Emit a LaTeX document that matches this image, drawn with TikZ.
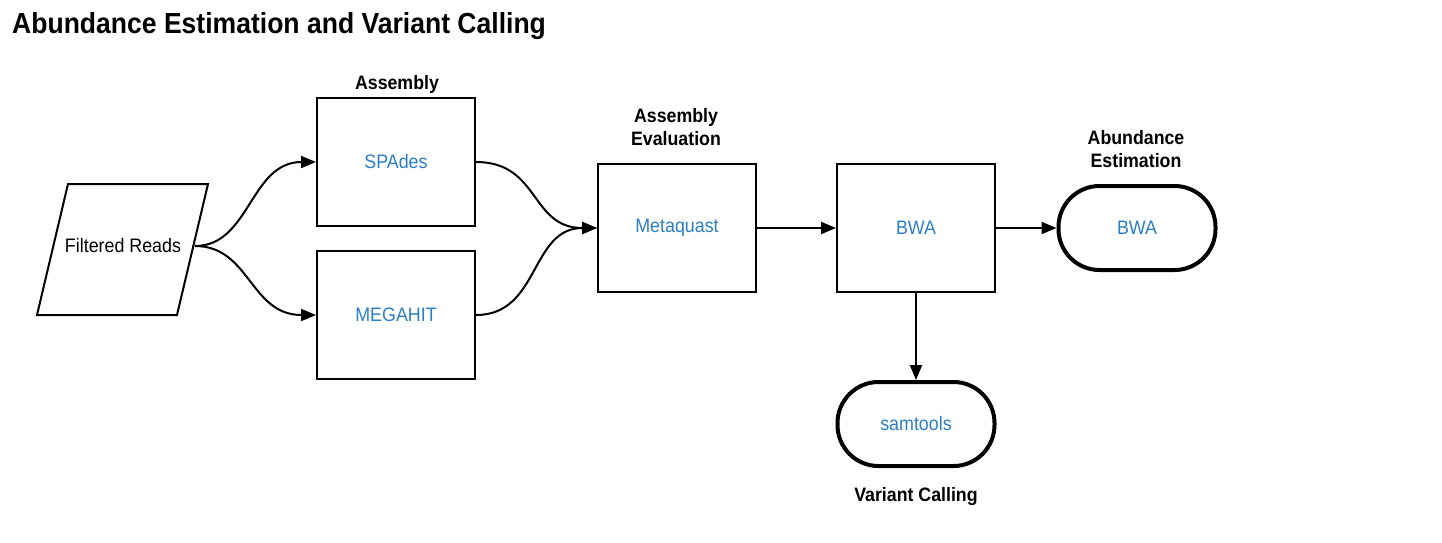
\documentclass[tikz,border=0pt]{standalone}
\usepackage{fontspec}
\setmainfont{Liberation Sans}[FakeStretch=0.915]
\usetikzlibrary{arrows.meta}
\definecolor{toolblue}{HTML}{2B7FC6}
\begin{document}
\begin{tikzpicture}[x=1pt,y=-1pt,
  box/.style={draw,line width=2pt,minimum width=158pt,minimum height=128pt,inner sep=0pt,
    font=\fontsize{19.5}{22}\selectfont,text=toolblue},
  term/.style={draw,line width=4pt,rounded corners=41pt,minimum width=157pt,minimum height=84pt,inner sep=0pt,
    font=\fontsize{19.5}{22}\selectfont,text=toolblue},
  lab/.style={font=\bfseries\fontsize{19.4}{22.5}\selectfont,align=center,inner sep=0pt},
  conn/.style={line width=2pt,-{Triangle[length=15pt,width=12pt]}}]
\useasboundingbox[fill=white] (0,0) rectangle (1442,542);
\node[anchor=base west,inner sep=0pt,font=\bfseries\fontsize{29}{32}\selectfont] (title) at (12,33) {Abundance Estimation and Variant Calling};
% parallelogram
\draw[line width=2pt] (68,184) -- (208,184) -- (177,315) -- (37,315) -- cycle;
\node[font=\fontsize{19.5}{22}\selectfont] (fr) at (123,246) {Filtered Reads};
\coordinate (frout) at (195,246);
% boxes
\node[box] (spades) at (396,162) {SPAdes};
\node[box] (megahit) at (396,315) {MEGAHIT};
\node[box] (metaquast) at (677,228) {Metaquast};
\node[box] (bwa) at (916,228) {BWA};
\node[term] (bwa2) at (1137,228) {BWA};
\node[term] (samtools) at (916,424) {samtools};
% labels
\node[lab] (l1) at (397,84) {Assembly};
\node[lab] (l2) at (676,127) {Assembly\\Evaluation};
\node[lab] (l3) at (1136,149) {Abundance\\Estimation};
\node[lab] (l4) at (916,497) {Variant Calling};
% connectors
\draw[conn] (frout) .. controls (250,246) and (250,162) .. (spades.west);
\draw[conn] (frout) .. controls (250,246) and (250,315) .. (megahit.west);
\draw[conn] (spades.east) .. controls (540,162) and (530,228) .. (metaquast.west);
\draw[conn] (megahit.east) .. controls (540,315) and (530,228) .. (metaquast.west);
\draw[conn] (metaquast.east) -- (bwa.west);
\draw[conn] (bwa.east) -- (bwa2.west);
\draw[conn] (bwa.south) -- (samtools.north);
\end{tikzpicture}
\end{document}
